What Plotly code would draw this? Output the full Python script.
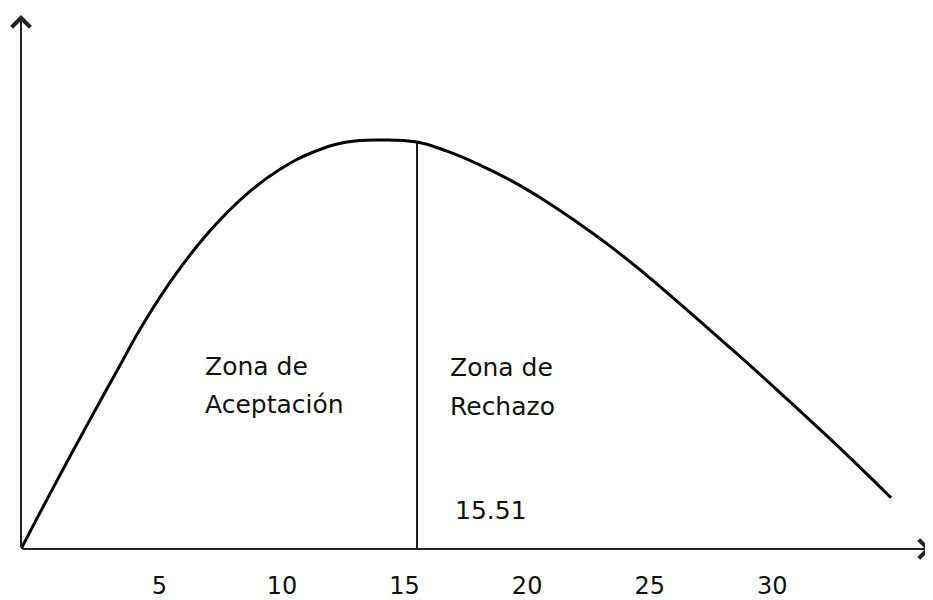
import plotly.graph_objects as go

# curve (x in chi-square units, y in density-like units)
curve_x = [-0.64, 0.665, 2.051, 3.316, 4.335, 5.722, 7.068, 8.577, 9.922, 11.268, 12.655,
           14.001, 15.510, 16.733, 18.079, 19.425, 20.811, 22.157, 23.503, 24.890, 26.236,
           28.153, 29.784, 32.476, 34.840]
curve_y = [0.0, 0.0114, 0.0232, 0.0337, 0.0421, 0.0518, 0.0596, 0.0665, 0.0711, 0.0743, 0.0762,
           0.0766, 0.0762, 0.0745, 0.0719, 0.0688, 0.0650, 0.0608, 0.0563, 0.0512, 0.0459,
           0.0382, 0.0315, 0.0201, 0.0096]

critical_value = 15.51
critical_height = 0.0762
critical_label = "15.51"

tick_values = [5, 10, 15, 20, 25, 30]
tick_labels = ["5", "10", "15", "20", "25", "30"]

x_min, x_max = -0.64, 36.47
y_min, y_max = 0.0, 0.1

FONT = "DejaVu Sans"
INK = "#111111"
AXIS = "#222222"

fig = go.Figure()
fig.add_trace(go.Scatter(x=curve_x, y=curve_y, mode="lines",
                         line=dict(color="black", width=3, shape="spline", smoothing=1.3),
                         hoverinfo="skip", showlegend=False))
fig.add_trace(go.Scatter(x=[critical_value, critical_value], y=[0, critical_height], mode="lines",
                         line=dict(color="black", width=1.8),
                         hoverinfo="skip", showlegend=False))

# axes with open arrow heads
fig.add_annotation(x=x_max, y=y_min, ax=x_min, ay=y_min, xref="x", yref="y", axref="x", ayref="y",
                   showarrow=True, arrowhead=4, arrowsize=1.8, arrowwidth=2,
                   arrowcolor=AXIS, text="")
fig.add_annotation(x=x_min, y=y_max, ax=x_min, ay=y_min, xref="x", yref="y", axref="x", ayref="y",
                   showarrow=True, arrowhead=4, arrowsize=1.8, arrowwidth=2,
                   arrowcolor=AXIS, text="")

txt = dict(xref="x", yref="y", showarrow=False, xanchor="left", yanchor="middle",
           font=dict(family=FONT, size=25, color=INK))
fig.add_annotation(x=6.79, y=0.0341, text="Zona de", **txt)
fig.add_annotation(x=6.79, y=0.0270, text="Aceptación", **txt)
fig.add_annotation(x=16.77, y=0.0339, text="Zona de", **txt)
fig.add_annotation(x=16.77, y=0.0266, text="Rechazo", **txt)
fig.add_annotation(x=16.98, y=0.0073, text=critical_label, **txt)

fig.update_xaxes(range=[x_min, x_max], showgrid=False, zeroline=False, showline=False,
                 tickvals=tick_values, ticktext=tick_labels, ticks="",
                 tickfont=dict(family=FONT, size=24, color=INK),
                 ticklabelstandoff=20, automargin=False, fixedrange=True)
fig.update_yaxes(range=[y_min, y_max], showgrid=False, zeroline=False, showline=False,
                 showticklabels=False, ticks="", automargin=False, fixedrange=True)

fig.update_layout(width=925, height=592, margin=dict(l=13, r=2, t=7, b=51),
                  paper_bgcolor="white", plot_bgcolor="white", showlegend=False)

fig.write_html("out.html")
